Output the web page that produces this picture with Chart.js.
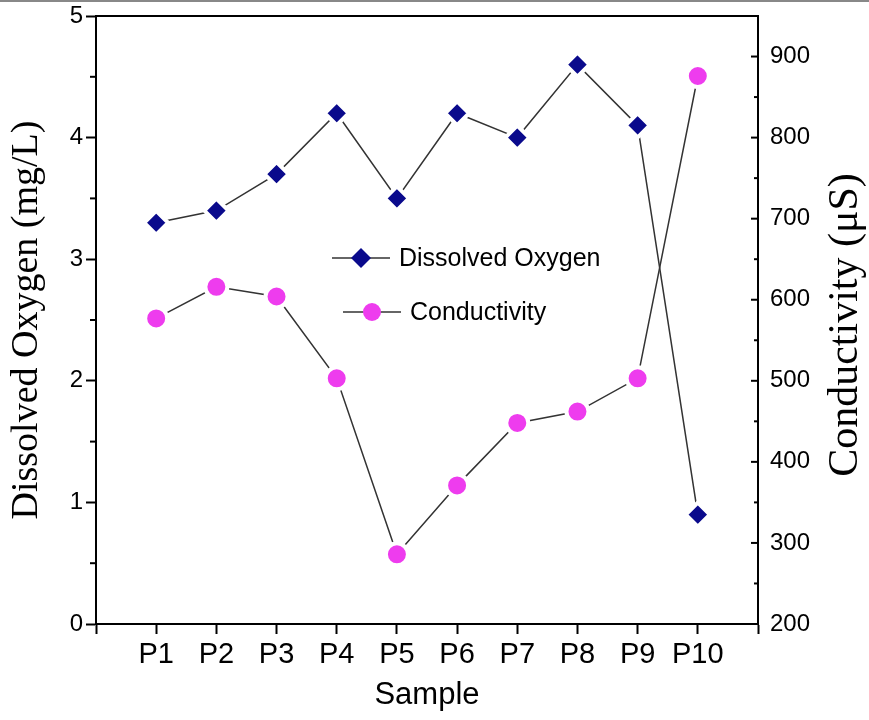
<!DOCTYPE html>
<html>
<head>
<meta charset="utf-8">
<script src="https://cdn.jsdelivr.net/npm/chart.js@4.4.1/dist/chart.umd.min.js"></script>
<style>
  html, body { margin: 0; padding: 0; background: #fff; }
  #wrap { width: 869px; height: 720px; position: relative; }
</style>
</head>
<body>
<div id="wrap"><canvas id="chart" width="869" height="720"></canvas></div>
<script>
// Data
const samples = ['P1', 'P2', 'P3', 'P4', 'P5', 'P6', 'P7', 'P8', 'P9', 'P10'];
const dissolvedOxygen = [3.3, 3.4, 3.7, 4.2, 3.5, 4.2, 4.0, 4.6, 4.1, 0.9];
const conductivity = [577, 616, 604, 503, 286, 371, 448, 462, 503, 876];
const doTicks = [0, 1, 2, 3, 4, 5];
const condTicks = [200, 300, 400, 500, 600, 700, 800, 900];

const SANS = 'Liberation Sans, Arial, sans-serif';
const SERIF = 'Liberation Serif, Times New Roman, serif';
const DO_COLOR = '#0a0a8c';
const COND_COLOR = '#ee3cee';
const LINE_COLOR = '#333';

const toPoints = vals => vals.map((v, i) => ({ x: i + 1, y: v }));

// frame top, minor ticks, inward ticks of the right axis and its title
const axisExtras = {
  id: 'axisExtras',
  afterDraw(chart) {
    const { ctx, chartArea: a, scales } = chart;
    const seg = (x1, y1, x2, y2) => {
      ctx.beginPath(); ctx.moveTo(x1, y1); ctx.lineTo(x2, y2); ctx.stroke();
    };
    ctx.save();
    ctx.strokeStyle = '#000';
    ctx.lineWidth = 2;
    seg(a.left - 1, a.top, a.right + 1, a.top);

    scales.y.ticks.forEach(t => {
      if (doTicks.includes(t.value)) return;
      const py = scales.y.getPixelForValue(t.value);
      seg(a.left - 6, py, a.left, py);
    });
    scales.y1.ticks.forEach(t => {
      const py = scales.y1.getPixelForValue(t.value);
      const len = condTicks.includes(t.value) ? 7 : 4;
      seg(a.right - len, py, a.right, py);
    });

    // right title reads bottom to top, like the left one
    ctx.translate(846, (a.top + a.bottom) / 2 + 5);
    ctx.rotate(-Math.PI / 2);
    ctx.fillStyle = '#000';
    ctx.font = '42px ' + SERIF;
    ctx.textAlign = 'center';
    ctx.textBaseline = 'middle';
    ctx.fillText('Conductivity (\u03bcS)', 0, 0);
    ctx.setTransform(1, 0, 0, 1, 0, 0);

    // grey border of the original picture
    ctx.strokeStyle = '#888';
    seg(0, 1, chart.width, 1);
    ctx.restore();
  }
};

// legend drawn inside the plot, Origin style
const insideLegend = {
  id: 'insideLegend',
  afterDraw(chart, args, opts) {
    const { ctx } = chart;
    ctx.save();
    opts.rows.forEach((row, i) => {
      const ds = chart.data.datasets[i];
      ctx.strokeStyle = ds.borderColor;
      ctx.lineWidth = 1.5;
      ctx.beginPath();
      ctx.moveTo(row.x, row.y);
      ctx.lineTo(row.x + 58, row.y);
      ctx.stroke();
      const mx = row.x + 29;
      ctx.fillStyle = ds.pointBackgroundColor;
      ctx.beginPath();
      if (ds.pointStyle === 'rectRot') {
        ctx.moveTo(mx, row.y - 10);
        ctx.lineTo(mx + 10, row.y);
        ctx.lineTo(mx, row.y + 10);
        ctx.lineTo(mx - 10, row.y);
        ctx.closePath();
      } else {
        ctx.arc(mx, row.y, 9, 0, Math.PI * 2);
      }
      ctx.fill();
      ctx.fillStyle = '#000';
      ctx.font = '25px ' + SANS;
      ctx.textBaseline = 'middle';
      ctx.fillText(ds.label, row.x + 67, row.y + 1);
    });
    ctx.restore();
  }
};

// no extra room for the end tick labels, the frame sits where the reference has it
const noEdgePadding = s => { s.paddingTop = 0; s.paddingBottom = 0; };

new Chart(document.getElementById('chart'), {
  type: 'line',
  data: {
    datasets: [
      {
        label: 'Dissolved Oxygen',
        data: toPoints(dissolvedOxygen),
        yAxisID: 'y',
        borderColor: LINE_COLOR,
        borderWidth: 1.5,
        pointStyle: 'rectRot',
        pointRadius: 12,
        pointHoverRadius: 12,
        pointBackgroundColor: DO_COLOR,
        pointBorderColor: '#fff',
        pointBorderWidth: 4
      },
      {
        label: 'Conductivity',
        data: toPoints(conductivity),
        yAxisID: 'y1',
        borderColor: LINE_COLOR,
        borderWidth: 1.5,
        pointStyle: 'circle',
        pointRadius: 11,
        pointHoverRadius: 11,
        pointBackgroundColor: COND_COLOR,
        pointBorderColor: '#fff',
        pointBorderWidth: 4
      }
    ]
  },
  options: {
    responsive: false,
    animation: false,
    layout: { padding: { top: 15 } },
    plugins: {
      legend: { display: false },
      tooltip: { enabled: false },
      insideLegend: {
        rows: [{ x: 332, y: 258 }, { x: 343, y: 312 }]
      }
    },
    scales: {
      x: {
        type: 'linear',
        min: 0,
        max: samples.length + 1,
        afterBuildTicks: s => {
          s.ticks = Array.from({ length: samples.length + 2 }, (_, i) => ({ value: i }));
        },
        ticks: {
          autoSkip: false,
          maxRotation: 0,
          color: '#000',
          padding: 4,
          font: { family: SANS, size: 29 },
          callback: v => samples[v - 1] || ''
        },
        grid: { drawOnChartArea: false, tickLength: 10, tickColor: '#000', tickWidth: 2 },
        border: { color: '#000', width: 2 },
        title: {
          display: true, text: 'Sample', color: '#000',
          font: { family: SANS, size: 31 }, padding: { top: 0, bottom: 6 }
        },
        afterFit: s => { s.height = 96; s.paddingLeft = 0; s.paddingRight = 0; }
      },
      y: {
        position: 'left',
        min: 0,
        max: 5,
        ticks: {
          stepSize: 0.5,
          color: '#000',
          padding: 3,
          font: { family: SANS, size: 24 },
          callback: v => doTicks.includes(v) ? v : ''
        },
        grid: {
          drawOnChartArea: false, tickLength: 10, tickWidth: 2,
          tickColor: c => doTicks.includes(c.tick.value) ? '#000' : 'rgba(0,0,0,0)'
        },
        border: { color: '#000', width: 2 },
        title: {
          display: true, text: 'Dissolved Oxygen (mg/L)', color: '#000',
          font: { family: SERIF, size: 38 }, padding: { top: 4, bottom: 6 }
        },
        afterFit: s => { s.width = 96; noEdgePadding(s); }
      },
      y1: {
        position: 'right',
        min: 200,
        max: 950,
        ticks: {
          stepSize: 50,
          color: '#000',
          padding: 12,
          font: { family: SANS, size: 24 },
          callback: v => condTicks.includes(v) ? v : ''
        },
        grid: { drawOnChartArea: false, drawTicks: false },
        border: { color: '#000', width: 2 },
        afterFit: s => { s.width = 111; noEdgePadding(s); }
      }
    }
  },
  plugins: [axisExtras, insideLegend]
});
</script>
</body>
</html>
